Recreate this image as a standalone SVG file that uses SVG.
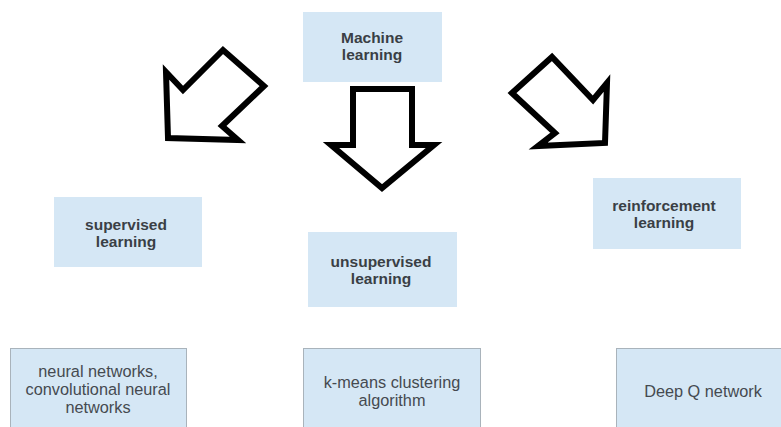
<svg xmlns="http://www.w3.org/2000/svg" width="781" height="427" viewBox="0 0 781 427">
  <style>
    .box { fill: #d5e7f5; }
    .leaf { fill: #d5e7f5; stroke: #a9b3bb; stroke-width: 1; }
    .title { font-family: "Liberation Sans", Arial, sans-serif; font-weight: bold; font-size: 15.5px; fill: #3a3f45; text-anchor: middle; }
    .label { font-family: "Liberation Sans", Arial, sans-serif; font-size: 16.3px; fill: #454a50; text-anchor: middle; }
    .arrow { fill: #ffffff; stroke: #000000; stroke-width: 6; stroke-linejoin: miter; }
  </style>

  <rect width="781" height="427" fill="#ffffff"/>

  <!-- block arrows from the root category -->
  <g id="connectors">
    <polygon class="arrow" points="168,138 166,72 183,90 223,50 264,86 222,126 238,140"/>
    <polygon class="arrow" points="353,89 412,89 412,145 434,145 382,188 331,145 353,145"/>
    <polygon class="arrow" points="512,93 552,57 593,100 607,83 605,143 538,146 555,133"/>
  </g>

  <g id="machine-learning">
    <rect class="box" x="303" y="12" width="139" height="70"/>
    <text class="title" x="372" y="43">Machine</text>
    <text class="title" x="372" y="60">learning</text>
  </g>

  <g id="supervised">
    <rect class="box" x="54" y="197" width="148" height="70"/>
    <text class="title" x="126" y="230">supervised</text>
    <text class="title" x="126" y="247">learning</text>
  </g>

  <g id="unsupervised">
    <rect class="box" x="308" y="232" width="149" height="75"/>
    <text class="title" x="381" y="267">unsupervised</text>
    <text class="title" x="381" y="284">learning</text>
  </g>

  <g id="reinforcement">
    <rect class="box" x="593" y="178" width="148" height="71"/>
    <text class="title" x="664" y="211">reinforcement</text>
    <text class="title" x="664" y="228">learning</text>
  </g>

  <g id="neural-networks">
    <rect class="leaf" x="10.5" y="348.5" width="176" height="90"/>
    <text class="label" x="98" y="377">neural networks,</text>
    <text class="label" x="98" y="395">convolutional neural</text>
    <text class="label" x="98" y="413">networks</text>
  </g>

  <g id="k-means">
    <rect class="leaf" x="303.5" y="348.5" width="177" height="90"/>
    <text class="label" x="392" y="388">k-means clustering</text>
    <text class="label" x="392" y="406">algorithm</text>
  </g>

  <g id="deep-q">
    <rect class="leaf" x="616.5" y="348.5" width="175" height="90"/>
    <text class="label" x="703" y="397">Deep Q network</text>
  </g>
</svg>
